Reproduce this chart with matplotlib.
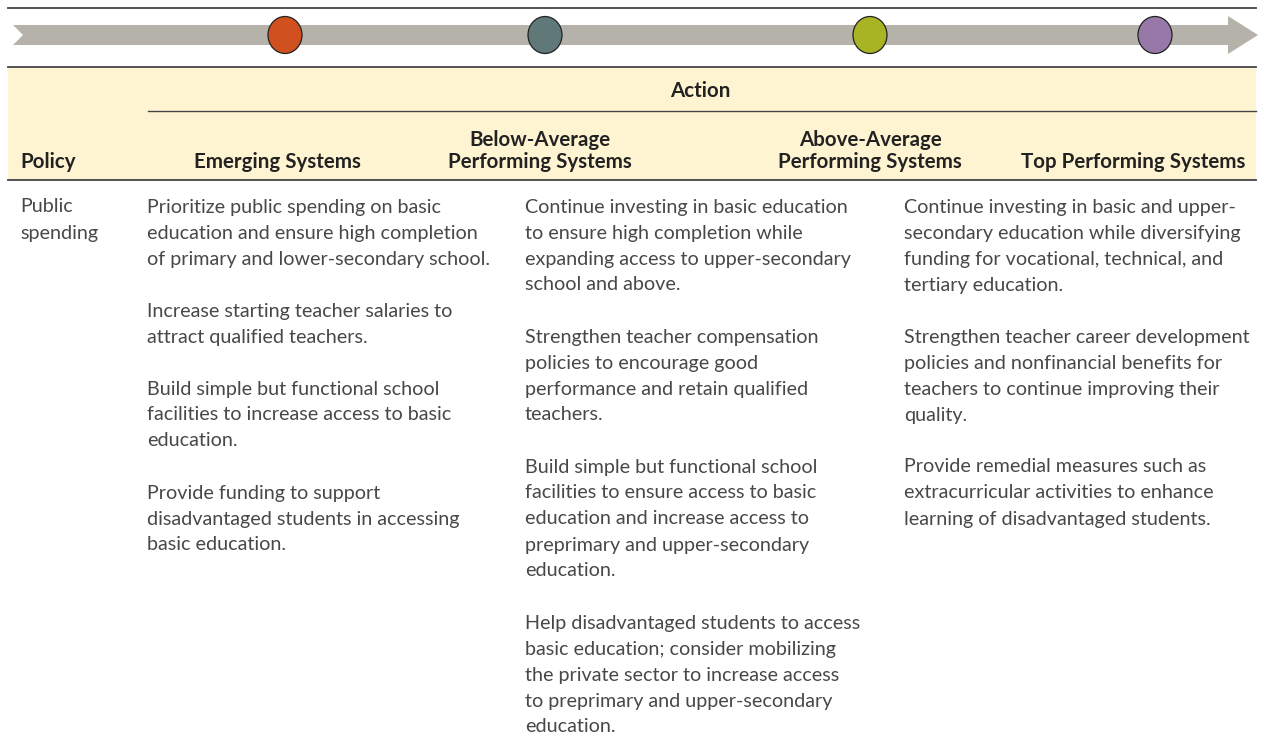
import matplotlib.pyplot as plt
from matplotlib.patches import Polygon, Rectangle, Ellipse

plt.rcParams['font.family'] = ['Lato', 'DejaVu Sans']

stages = ['Emerging Systems', 'Below-Average\nPerforming Systems',
          'Above-Average\nPerforming Systems', 'Top Performing Systems']
stage_colors = ['#D05020', '#607878', '#A8B424', '#9878A8']
policy = 'Public\nspending'

emerging = [
    ['Prioritize public spending on basic', 'education and ensure high completion',
     'of primary and lower-secondary school.'],
    ['Increase starting teacher salaries to', 'attract qualified teachers.'],
    ['Build simple but functional school', 'facilities to increase access to basic', 'education.'],
    ['Provide funding to support', 'disadvantaged students in accessing', 'basic education.'],
]
below_avg = [
    ['Continue investing in basic education', 'to ensure high completion while',
     'expanding access to upper-secondary', 'school and above.'],
    ['Strengthen teacher compensation', 'policies to encourage good',
     'performance and retain qualified', 'teachers.'],
    ['Build simple but functional school', 'facilities to ensure access to basic',
     'education and increase access to', 'preprimary and upper-secondary', 'education.'],
    ['Help disadvantaged students to access', 'basic education; consider mobilizing',
     'the private sector to increase access', 'to preprimary and upper-secondary', 'education.'],
]
top_perf = [
    ['Continue investing in basic and upper-', 'secondary education while diversifying',
     'funding for vocational, technical, and', 'tertiary education.'],
    ['Strengthen teacher career development', 'policies and nonfinancial benefits for',
     'teachers to continue improving their', 'quality.'],
    ['Provide remedial measures such as', 'extracurricular activities to enhance',
     'learning of disadvantaged students.'],
]

W, H = 1264, 752
fig = plt.figure(figsize=(W / 100, H / 100), dpi=100)
ax = fig.add_axes([0, 0, 1, 1])
ax.set_xlim(0, W)
ax.set_ylim(H, 0)
ax.axis('off')

# timeline arrow
arrow_gray = '#B5B2AA'
ax.add_patch(Polygon([(13, 25), (1228, 25), (1228, 16), (1258, 35), (1228, 54),
                      (1228, 45), (13, 45), (23, 35)], closed=True,
                     facecolor=arrow_gray, edgecolor='none'))
circle_x = [285, 545, 870, 1155]
for cx, col in zip(circle_x, stage_colors):
    ax.add_patch(Ellipse((cx, 35), 34, 37, facecolor=col, edgecolor='#222222', lw=0.9))

# rules and header band
ax.plot([8, 1256], [8, 8], color='#444444', lw=1.3)
ax.plot([8, 1256], [67, 67], color='#444444', lw=1.3)
ax.add_patch(Rectangle((8, 68), 1248, 112, facecolor='#FFF4D2', edgecolor='none'))
ax.plot([148, 1256], [111, 111], color='#444444', lw=1.0)
ax.plot([8, 1256], [180, 180], color='#444444', lw=1.3)

hdr = dict(fontsize=14.8, fontweight='bold', color='#222222', linespacing=1.1)
ax.text(700, 91, 'Action', ha='center', va='center', **hdr)
ax.text(20, 168, 'Policy', ha='left', va='baseline', **hdr)
header_x = [277, 540, 870, 1133]
for hx, name in zip(header_x, stages):
    ax.text(hx, 168, name, ha='center', va='baseline', **hdr)

# body
body = dict(fontsize=14.2, color='#484848', va='center', ha='left')
line_h = 26
y0 = 207
ax.text(20, y0, policy.split('\n')[0], **body)
ax.text(20, y0 + line_h, policy.split('\n')[1], **body)

for col_x, paras in zip([147, 525, 904], [emerging, below_avg, top_perf]):
    y = y0
    for para in paras:
        for line in para:
            ax.text(col_x, y, line, **body)
            y += line_h
        y += line_h

fig.savefig('out.png', dpi=100)
